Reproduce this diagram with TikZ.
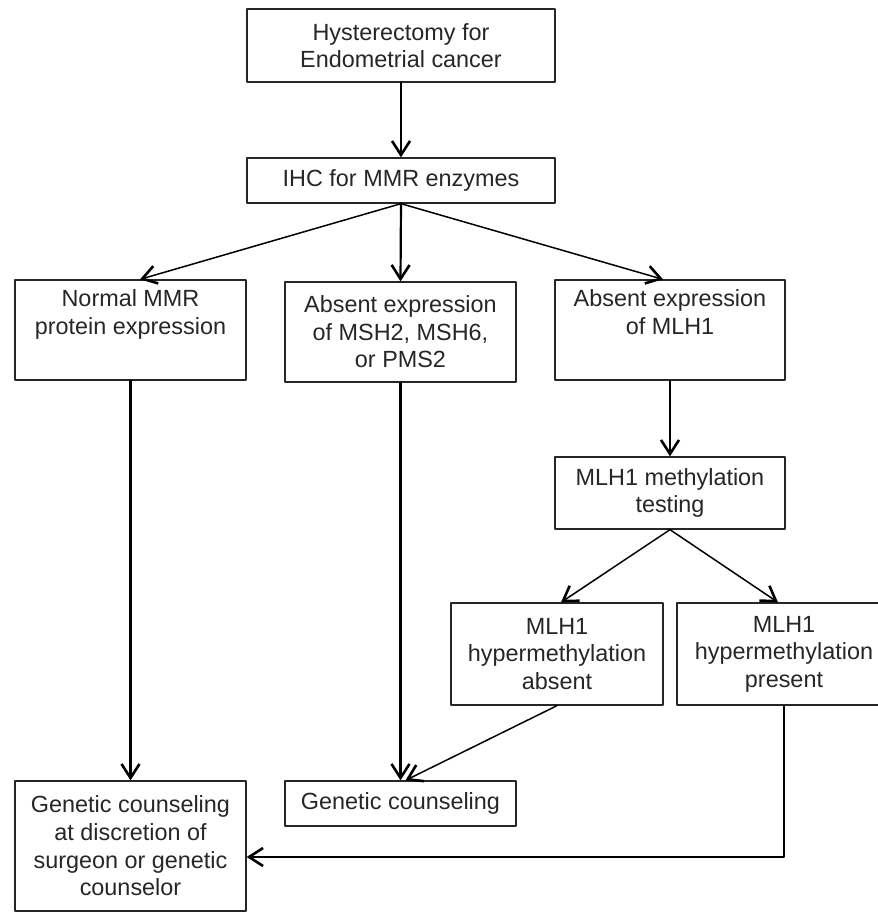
\documentclass[tikz,border=0pt]{standalone}
\usepackage{fontspec}
\setmainfont{Liberation Sans}
\usetikzlibrary{arrows.meta}

\begin{document}
\begin{tikzpicture}[x=0.5pt, y=-0.5pt, line cap=round, line join=round,
    stepbox/.style={draw=black!85, line width=0.65pt, align=center, inner sep=0pt,
      text=black!85, font=\fontsize{11.7}{13.8}\selectfont},
    thick arrow/.style={-{Straight Barb[length=7pt,width=9pt,line width=1.3pt]}, line width=1.1pt},
    thin arrow/.style={-{Straight Barb[length=7pt,width=9pt,line width=1.3pt]}, line width=0.75pt}]
  \useasboundingbox (0,0) rectangle (878,912);
  % top of the chart
  \node[stepbox, minimum width=154pt, minimum height=36.5pt] (hyst) at (401,45.5)
    {Hysterectomy for\\Endometrial cancer};
  \node[stepbox, minimum width=154pt, minimum height=22.5pt] (ihc) at (401,180.5)
    {IHC for MMR enzymes};
  % IHC results
  \node[stepbox, minimum width=115.5pt, minimum height=50pt] (normal) at (130.5,330)
    {Normal MMR\\protein expression\\\strut};
  \node[stepbox, minimum width=115.5pt, minimum height=50pt] (absent) at (400.5,332)
    {Absent expression\\of MSH2, MSH6,\\or PMS2};
  \node[stepbox, minimum width=115pt, minimum height=50pt] (mlh) at (670,330)
    {Absent expression\\of MLH1\\\strut};
  % methylation branch
  \node[stepbox, minimum width=115pt, minimum height=36pt] (methyl) at (670,493)
    {MLH1 methylation\\testing};
  \node[stepbox, minimum width=106pt, minimum height=51pt] (hypabs) at (557,654)
    {MLH1\\hypermethylation\\absent};
  \node[stepbox, minimum width=107pt, minimum height=51pt] (hyppres) at (784,654)
    {MLH1\\hypermethylation\\present};
  % outcomes
  \node[stepbox, minimum width=115.5pt, minimum height=65pt] (discr) at (130.5,846)
    {Genetic counseling\\at discretion of\\surgeon or genetic\\counselor};
  \node[stepbox, minimum width=115.5pt, minimum height=22.5pt] (gc) at (400.5,803.5)
    {Genetic counseling};

  \draw[thick arrow] (hyst.south) -- (ihc.north);
  \draw[thin arrow] (ihc.south) -- ([xshift=4.75pt]normal.north);
  \draw[thick arrow] (ihc.south) -- (absent.north);
  \draw[thin arrow] (ihc.south) -- ([xshift=-3.5pt]mlh.north);
  \draw[thick arrow] (mlh.south) -- (methyl.north);
  \draw[thin arrow] (methyl.south) -- ([xshift=2pt]hypabs.north);
  \draw[thin arrow] (methyl.south) -- ([xshift=-3pt]hyppres.north);
  \draw[thick arrow] (normal.south) -- (discr.north);
  \draw[thick arrow] (absent.south) -- (gc.north);
  \draw[thin arrow] (hypabs.south) -- ([xshift=2.5pt]gc.north);
  \draw[thick arrow] (hyppres.south) |- ([yshift=-5.5pt]discr.east);
\end{tikzpicture}
\end{document}
